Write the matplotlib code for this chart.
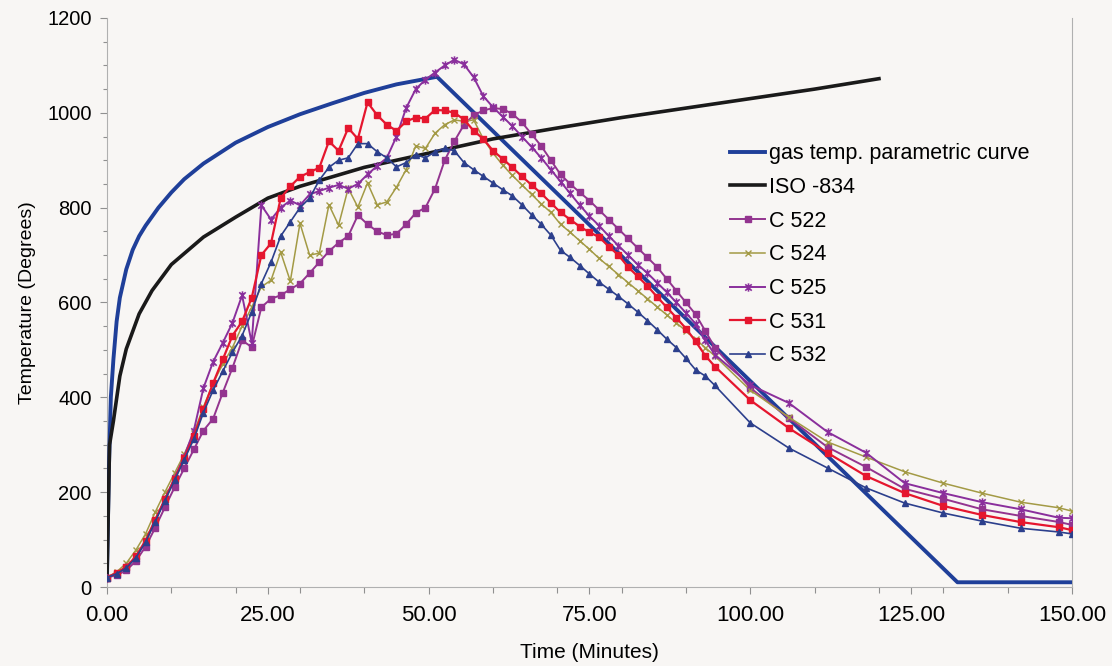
import matplotlib
matplotlib.use("Agg")
import matplotlib.pyplot as plt
from matplotlib.ticker import MultipleLocator, FixedLocator, FuncFormatter
from matplotlib.path import Path

# ---------------- data ----------------
gas_t = [0, 0.3, 0.6, 1, 1.5, 2, 3, 4, 5, 6, 8, 10, 12, 15, 20, 25, 30, 35, 40, 45, 51.3, 132.2, 150]
gas_T = [20, 250, 400, 480, 560, 610, 670, 711, 740, 762, 800, 832, 860, 893, 937, 970, 997, 1020, 1042, 1060, 1076, 10, 10]

iso_t = [0, 0.4, 1, 2, 3, 5, 7, 10, 15, 20, 25, 30, 40, 50, 60, 70, 80, 90, 100, 110, 120]
iso_T = [20, 300, 350, 445, 502, 576, 625, 680, 738, 780, 820, 845, 885, 915, 945, 968, 990, 1010, 1030, 1050, 1072]

t_meas = [0, 1.5, 3, 4.5, 6, 7.5, 9, 10.5, 12, 13.5, 15, 16.5, 18, 19.5, 21, 22.5,
          24, 25.5, 27, 28.5, 30, 31.5, 33, 34.5, 36, 37.5, 39, 40.5, 42, 43.5, 45, 46.5,
          48, 49.5, 51, 52.5, 54, 55.5, 57, 58.5, 60, 61.5, 63, 64.5, 66, 67.5, 69, 70.5,
          72, 73.5, 75, 76.5, 78, 79.5, 81, 82.5, 84, 85.5, 87, 88.5, 90, 91.5, 93, 94.5,
          100, 106, 112, 118, 124, 130, 136, 142, 148, 150]

c522 = [20, 25, 35, 55, 85, 125, 168, 210, 250, 290, 330, 355, 410, 462, 520, 506,
        590, 608, 615, 628, 640, 662, 685, 708, 726, 740, 784, 765, 750, 742, 745, 765,
        789, 800, 840, 900, 940, 975, 995, 1005, 1010, 1008, 998, 980, 955, 930, 900, 870,
        850, 832, 815, 795, 775, 755, 735, 715, 695, 675, 650, 625, 600, 575, 540, 505,
        420, 356, 295, 253, 207, 186, 164, 150, 137, 131]

c524 = [20, 32, 50, 78, 112, 158, 200, 240, 280, 325, 380, 430, 470, 505, 550, 590,
        633, 647, 706, 645, 767, 700, 704, 806, 763, 841, 801, 852, 806, 812, 843, 880,
        930, 925, 957, 975, 985, 982, 985, 945, 915, 890, 868, 848, 828, 808, 790, 765,
        748, 730, 712, 693, 676, 659, 642, 625, 608, 591, 574, 557, 540, 522, 505, 487,
        415, 358, 306, 274, 243, 219, 198, 179, 167, 160]

c525 = [20, 28, 42, 62, 95, 140, 185, 230, 275, 330, 420, 475, 515, 557, 615, 515,
        805, 775, 800, 815, 805, 828, 835, 842, 848, 840, 850, 870, 888, 905, 950, 1010,
        1050, 1070, 1085, 1100, 1112, 1102, 1075, 1035, 1012, 992, 972, 950, 928, 905, 880, 855,
        830, 805, 782, 762, 740, 720, 700, 680, 662, 642, 622, 600, 578, 555, 520, 490,
        426, 388, 327, 283, 219, 198, 179, 164, 146, 145]

c531 = [20, 30, 42, 65, 98, 142, 185, 228, 272, 318, 375, 430, 480, 530, 560, 610,
        700, 725, 820, 845, 865, 875, 884, 940, 920, 968, 945, 1022, 995, 975, 962, 982,
        990, 988, 1006, 1005, 1000, 986, 962, 945, 920, 903, 885, 866, 848, 830, 810, 790,
        775, 760, 748, 738, 718, 700, 675, 655, 635, 612, 590, 568, 545, 518, 488, 465,
        394, 335, 283, 234, 198, 171, 152, 137, 126, 120]

c532 = [20, 28, 40, 62, 95, 138, 182, 225, 268, 312, 368, 415, 455, 495, 530, 580,
        640, 685, 740, 770, 800, 820, 858, 885, 900, 905, 935, 935, 918, 905, 886, 895,
        912, 905, 918, 925, 920, 895, 880, 866, 852, 838, 825, 806, 785, 765, 742, 710,
        695, 678, 660, 643, 628, 613, 597, 580, 562, 543, 523, 505, 482, 458, 445, 425,
        346, 293, 251, 209, 177, 156, 139, 124, 116, 112]

x_ticks = [0, 25, 50, 75, 100, 125, 150]
y_ticks = [0, 200, 400, 600, 800, 1000, 1200]

# ---------------- plot ----------------
plt.rcParams['font.family'] = ['Liberation Sans', 'DejaVu Sans']

fig = plt.figure(figsize=(11.12, 6.66), dpi=100)
bg = '#f8f6f4'
fig.patch.set_facecolor(bg)
ax = fig.add_axes([0.0962, 0.1186, 0.8678, 0.8544])
ax.set_facecolor(bg)

star = Path([(-1, -1), (1, 1), (-1, 1), (1, -1), (0, -1.3), (0, 1.3)],
            [Path.MOVETO, Path.LINETO, Path.MOVETO, Path.LINETO, Path.MOVETO, Path.LINETO])

ax.plot(gas_t, gas_T, color='#1f3f99', lw=2.8, label='gas temp. parametric curve', zorder=3)
ax.plot(iso_t, iso_T, color='#1a1a1a', lw=2.6, label='ISO -834', zorder=3)
ax.plot(t_meas, c522, color='#93348f', lw=1.4, marker='s', ms=4, label='C 522', zorder=4)
ax.plot(t_meas, c524, color='#a39a45', lw=1.1, marker='x', ms=4, mew=1.0, label='C 524', zorder=4)
ax.plot(t_meas, c525, color='#8a2f9c', lw=1.4, marker=star, ms=6, mew=1.2, label='C 525', zorder=4)
ax.plot(t_meas, c531, color='#e5162e', lw=1.6, marker='s', ms=4.5, label='C 531', zorder=4)
ax.plot(t_meas, c532, color='#2c3f8c', lw=1.2, marker='^', ms=4, label='C 532', zorder=4)

ax.set_xlim(0, 150)
ax.set_ylim(0, 1200)
ax.xaxis.set_major_locator(FixedLocator(x_ticks))
ax.xaxis.set_minor_locator(MultipleLocator(10))
ax.yaxis.set_major_locator(FixedLocator(y_ticks))
ax.yaxis.set_minor_locator(MultipleLocator(50))
ax.xaxis.set_major_formatter(FuncFormatter(lambda v, p: f"{v:.2f}"))
ax.yaxis.set_major_formatter(FuncFormatter(lambda v, p: f"{int(v)}"))

ax.spines['top'].set_visible(False)
for s in ['left', 'bottom', 'right']:
    ax.spines[s].set_color('#b0b0b0')
    ax.spines[s].set_linewidth(0.8)
ax.tick_params(axis='both', which='both', direction='out', color='#909090', width=0.8)
ax.tick_params(axis='x', which='major', length=5, labelsize=16, pad=8)
ax.tick_params(axis='x', which='minor', length=4)
ax.tick_params(axis='y', which='major', length=5, labelsize=14.5, pad=6)
ax.tick_params(axis='y', which='minor', length=3)

ax.set_xlabel('Time (Minutes)', fontsize=15, labelpad=12)
ax.set_ylabel('Temperature (Degrees)', fontsize=14, labelpad=8)

leg = ax.legend(loc='upper left', bbox_to_anchor=(0.637, 0.795), frameon=False, fontsize=15.5,
                handlelength=1.6, handletextpad=0.2, labelspacing=0.59, borderaxespad=0)

fig.savefig('out.png', dpi=100, facecolor=bg)
